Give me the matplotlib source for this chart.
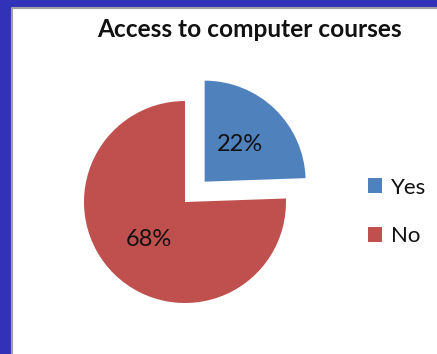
import matplotlib
matplotlib.use("Agg")
import matplotlib.pyplot as plt
from matplotlib.patches import Rectangle
from matplotlib.lines import Line2D

title = "Access to computer courses"
categories = ["Yes", "No"]
values = [22, 68]
colors = ["#4F81BD", "#C0504D"]

W, H, DPI = 437, 354, 100
fig = plt.figure(figsize=(W / DPI, H / DPI), dpi=DPI, facecolor="#3232B8")

# white chart panel inside the blue frame, with a grey rim on the left and top
x0, ytop = 12 / W, (H - 8) / H
panel = Rectangle((x0, 0), 1 - x0, ytop, transform=fig.transFigure,
                  facecolor="white", edgecolor="none", zorder=-5)
fig.patches.append(panel)
rim = Line2D([x0, x0, 1], [0, ytop, ytop], transform=fig.transFigure,
             color="#A0A0A0", linewidth=1.5, zorder=-4)
fig.lines.append(rim)

ax = fig.add_axes([0, 0, 1, 1])
ax.set_facecolor("none")
ax.set_zorder(2)

total = sum(values)
wedges, _, autotexts = ax.pie(
    values, colors=colors, startangle=90, counterclock=False,
    explode=[0.28, 0], pctdistance=0.51,
    autopct=lambda p: f"{p * total / 100:.0f}%",
    textprops=dict(fontsize=17, family="Lato", color="#111111"),
    wedgeprops=dict(linewidth=0),
)

# map data units to pixels: pie radius of 101 px centred at (185, 202) from top-left
R = 101.0
cx, cy = 185.0, 202.0
ax.set_xlim(-cx / R, (W - cx) / R)
ax.set_ylim(-(H - cy) / R, cy / R)
ax.set_aspect("auto")
ax.axis("off")

fig.text(0.571, 0.918, title, ha="center", va="center",
         fontsize=17.6, fontweight="bold", family="Lato", color="#111111")

leg = ax.legend(wedges, categories, loc="center left",
                bbox_to_anchor=(368 / W, 1 - 212 / H), bbox_transform=fig.transFigure,
                frameon=False, prop=dict(family="Lato", size=16),
                handlelength=0.65, handleheight=0.65, handletextpad=0.4,
                labelspacing=1.3, borderpad=0, borderaxespad=0)
for t in leg.get_texts():
    t.set_color("#111111")

fig.savefig("out.png", dpi=DPI, facecolor=fig.get_facecolor())
